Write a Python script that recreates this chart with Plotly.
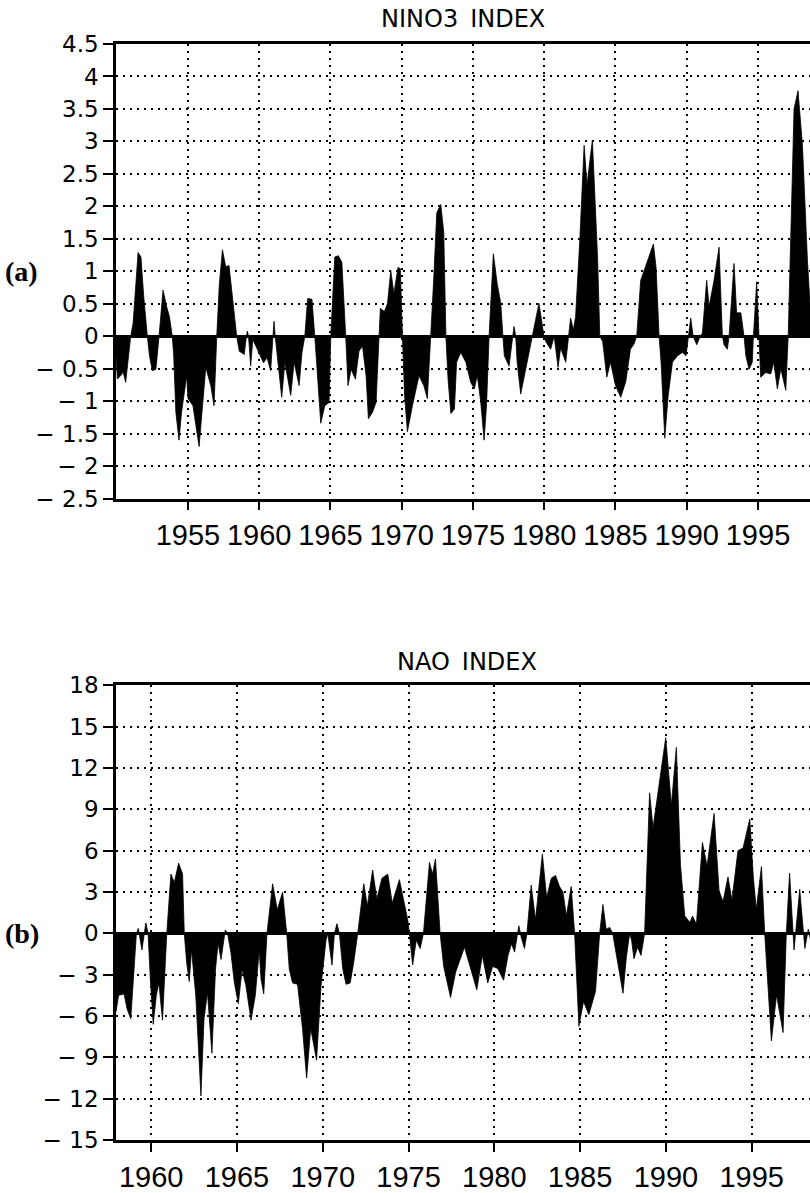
import plotly.graph_objects as go

# ---------------- data ----------------
nino3_year = [1949.95, 1950.05, 1950.3, 1950.45, 1950.63, 1950.8, 1950.98, 1951.15, 1951.35, 1951.5,
              1951.7, 1951.9, 1952.15, 1952.3, 1952.5, 1952.75, 1952.97, 1953.25, 1953.5, 1953.7,
              1953.9, 1954.0, 1954.15, 1954.37, 1954.55, 1954.91, 1955.0, 1955.35, 1955.78, 1956.0,
              1956.25, 1956.6, 1956.83, 1957.02, 1957.2, 1957.42, 1957.65, 1957.88, 1958.1, 1958.42,
              1958.6, 1958.95, 1959.1, 1959.17, 1959.25, 1959.4, 1959.55, 1959.85, 1960.3, 1960.55,
              1960.8, 1960.92, 1961.04, 1961.12, 1961.25, 1961.58, 1961.8, 1962.21, 1962.45, 1962.8,
              1963.0, 1963.2, 1963.4, 1963.7, 1963.9, 1964.1, 1964.32, 1964.6, 1964.9, 1965.02,
              1965.3, 1965.55, 1965.8, 1966.07, 1966.23, 1966.45, 1966.75, 1967.0, 1967.25, 1967.5,
              1967.66, 1967.95, 1968.2, 1968.41, 1968.5, 1968.78, 1969.0, 1969.23, 1969.45, 1969.74,
              1969.9, 1970.05, 1970.2, 1970.4, 1970.75, 1971.21, 1971.55, 1971.8, 1972.04, 1972.25,
              1972.46, 1972.74, 1972.95, 1973.1, 1973.25, 1973.45, 1973.7, 1973.85, 1974.14, 1974.5,
              1974.84, 1975.1, 1975.3, 1975.54, 1975.78, 1975.95, 1976.13, 1976.43, 1976.7, 1976.95,
              1977.1, 1977.2, 1977.53, 1977.78, 1977.88, 1978.0, 1978.1, 1978.35, 1978.7, 1979.05,
              1979.17, 1979.4, 1979.63, 1979.98, 1980.1, 1980.45, 1980.7, 1980.97, 1981.15, 1981.51,
              1981.74, 1981.85, 1982.05, 1982.2, 1982.5, 1982.8, 1983.0, 1983.38, 1983.55, 1983.75,
              1983.9, 1984.1, 1984.39, 1984.65, 1985.0, 1985.37, 1985.72, 1986.05, 1986.3, 1986.49,
              1986.77, 1987.1, 1987.35, 1987.66, 1987.85, 1988.06, 1988.2, 1988.46, 1988.7, 1989.0,
              1989.35, 1989.7, 1989.95, 1990.1, 1990.28, 1990.45, 1990.7, 1990.95, 1991.1, 1991.4,
              1991.57, 1991.9, 1992.27, 1992.5, 1992.62, 1992.85, 1992.97, 1993.32, 1993.5, 1993.8,
              1994.02, 1994.15, 1994.37, 1994.6, 1994.68, 1994.91, 1995.07, 1995.19, 1995.55, 1995.9,
              1996.1, 1996.36, 1996.6, 1996.95, 1997.12, 1997.3, 1997.53, 1997.81, 1998.12, 1998.47,
              1998.6, 1998.75, 1999.0]
nino3_value = [-0.3, -0.66, -0.6, -0.55, -0.71, -0.35, 0.0, 0.2, 0.9, 1.29,
               1.22, 0.6, 0.0, -0.3, -0.53, -0.51, 0.0, 0.71, 0.46, 0.3,
               0.0, -0.3, -1.17, -1.6, -1.17, -0.61, -0.96, -1.07, -1.70, -1.07,
               -0.48, -0.76, -1.07, 0.0, 0.8, 1.33, 1.07, 1.09, 0.66, 0.0,
               -0.23, -0.28, 0.0, 0.08, 0.0, -0.46, -0.05, -0.2, -0.41, -0.33,
               -0.53, -0.15, 0.23, 0.0, -0.25, -0.94, -0.4, -0.91, -0.4, -0.76,
               -0.25, 0.0, 0.58, 0.57, 0.0, -0.66, -1.34, -1.07, -1.02, 0.0,
               1.22, 1.24, 1.14, 0.0, -0.76, -0.51, -0.66, -0.23, -0.15, -0.61,
               -1.27, -1.17, -1.02, 0.0, 0.43, 0.38, 0.5, 1.01, 0.66, 1.06,
               1.04, 0.0, -0.91, -1.47, -1.07, -0.61, -0.76, -0.96, 0.0, 0.9,
               1.90, 2.03, 1.6, 0.0, -0.66, -1.19, -1.12, -0.4, -0.25, -0.4,
               -0.71, -0.81, -0.6, -1.0, -1.6, -1.07, 0.0, 1.27, 0.81, 0.51,
               0.0, -0.3, -0.46, 0.0, 0.15, 0.0, -0.4, -0.89, -0.51, -0.1,
               0.0, 0.3, 0.51, 0.0, -0.08, -0.2, 0.0, -0.48, -0.18, -0.4,
               0.0, 0.28, 0.1, 0.3, 1.5, 2.94, 2.33, 3.02, 2.18, 1.17,
               0.0, -0.08, -0.63, -0.4, -0.76, -0.94, -0.7, -0.2, -0.12, 0.0,
               0.86, 1.06, 1.24, 1.42, 1.06, 0.0, -0.4, -1.57, -0.91, -0.4,
               -0.3, -0.25, -0.3, 0.0, 0.28, 0.0, -0.13, 0.0, 0.05, 0.86,
               0.46, 0.84, 1.37, 0.0, -0.13, -0.2, 0.0, 1.12, 0.36, 0.36,
               0.0, -0.3, -0.51, -0.4, 0.0, 0.84, 0.0, -0.63, -0.56, -0.58,
               -0.4, -0.81, -0.5, -0.83, 0.0, 1.6, 3.5, 3.78, 2.94, 1.17,
               0.66, 0.0, -0.8]

nao_year = [1957.95, 1958.1, 1958.42, 1958.6, 1958.81, 1959.0, 1959.14, 1959.25, 1959.46, 1959.69,
            1959.82, 1959.95, 1960.12, 1960.3, 1960.45, 1960.66, 1960.8, 1960.91, 1961.15, 1961.35,
            1961.6, 1961.83, 1961.93, 1962.07, 1962.22, 1962.35, 1962.6, 1962.9, 1963.08, 1963.28,
            1963.54, 1963.75, 1963.9, 1964.07, 1964.32, 1964.45, 1964.65, 1964.85, 1965.08, 1965.3,
            1965.52, 1965.82, 1966.07, 1966.3, 1966.4, 1966.56, 1966.75, 1967.08, 1967.35, 1967.66,
            1967.9, 1968.05, 1968.24, 1968.53, 1968.82, 1969.06, 1969.3, 1969.64, 1969.9, 1970.19,
            1970.29, 1970.54, 1970.68, 1970.83, 1970.97, 1971.17, 1971.36, 1971.6, 1971.8, 1972.04,
            1972.39, 1972.6, 1972.91, 1973.15, 1973.45, 1973.79, 1974.05, 1974.47, 1974.7, 1974.95,
            1975.05, 1975.24, 1975.45, 1975.68, 1975.87, 1976.05, 1976.22, 1976.4, 1976.57, 1976.84,
            1977.05, 1977.45, 1977.75, 1978.26, 1978.55, 1978.98, 1979.3, 1979.62, 1979.9, 1980.2,
            1980.54, 1980.8, 1981.0, 1981.18, 1981.43, 1981.57, 1981.76, 1981.9, 1982.15, 1982.4,
            1982.8, 1983.05, 1983.32, 1983.57, 1983.8, 1984.0, 1984.2, 1984.48, 1984.68, 1984.93,
            1985.2, 1985.51, 1985.9, 1986.14, 1986.33, 1986.52, 1986.72, 1986.9, 1987.05, 1987.5,
            1987.7, 1987.89, 1988.0, 1988.14, 1988.35, 1988.55, 1988.76, 1989.05, 1989.25, 1989.6,
            1989.99, 1990.32, 1990.61, 1990.85, 1991.1, 1991.4, 1991.55, 1991.78, 1992.13, 1992.4,
            1992.81, 1993.1, 1993.33, 1993.62, 1993.85, 1994.2, 1994.5, 1994.89, 1995.1, 1995.27,
            1995.57, 1995.76, 1996.15, 1996.45, 1996.83, 1997.02, 1997.21, 1997.47, 1997.8, 1998.1,
            1998.3, 1998.45, 1998.7]
nao_value = [-5.7, -4.5, -4.4, -5.5, -6.2, -2.6, 0.0, 0.36, -1.2, 0.76,
             0.0, -3.3, -6.6, -4.5, -3.6, -6.3, -2.6, 0.0, 4.3, 3.7,
             5.1, 4.3, 0.0, -2.15, -3.5, -1.2, -4.5, -11.8, -6.2, -4.3,
             -8.7, -2.6, -0.7, -1.9, 0.24, 0.0, -1.4, -3.6, -5.1, -2.6,
             -3.8, -6.3, -4.5, -1.2, -3.3, -4.4, 0.0, 3.6, 1.7, 3.0,
             0.0, -2.6, -3.6, -3.7, -6.9, -10.5, -6.9, -9.2, -3.8, -0.5,
             0.0, -2.3, 0.0, 0.7, 0.0, -2.6, -3.7, -3.6, -2.15, 0.0,
             3.6, 2.0, 4.6, 2.5, 4.0, 4.3, 2.2, 3.9, 2.5, 1.0,
             0.0, -2.3, -0.5, -1.1, 0.0, 3.0, 5.15, 4.3, 5.4, 0.0,
             -2.4, -4.65, -2.8, -1.0, -2.3, -4.1, -1.6, -3.6, -2.4, -2.55,
             -3.4, -1.6, -0.76, -1.36, 0.55, -0.3, -1.1, 0.0, 3.5, 1.0,
             5.75, 2.6, 4.0, 4.2, 3.4, 3.0, 1.26, 3.4, 0.0, -6.75,
             -4.95, -5.9, -4.2, 0.0, 2.1, 0.3, 0.43, 0.0, -1.1, -4.35,
             -1.7, 0.0, -0.5, -1.84, -1.0, -1.6, 0.0, 10.2, 7.66, 10.8,
             14.2, 9.3, 13.5, 5.0, 1.26, 0.8, 1.26, 0.67, 6.6, 4.9,
             8.7, 3.1, 2.3, 4.1, 2.4, 6.0, 6.2, 8.3, 4.0, 1.75,
             4.85, 0.0, -7.8, -4.47, -7.2, 0.0, 4.37, -1.2, 3.2, -1.1,
             0.3, -0.6, 0.2]

nino3_xticks = [1955, 1960, 1965, 1970, 1975, 1980, 1985, 1990, 1995]
nao_xticks = [1960, 1965, 1970, 1975, 1980, 1985, 1990, 1995]
nino3_yticks = [-2.5, -2, -1.5, -1, -0.5, 0, 0.5, 1, 1.5, 2, 2.5, 3, 3.5, 4, 4.5]
nao_yticks = [-15, -12, -9, -6, -3, 0, 3, 6, 9, 12, 15, 18]

title_top = "NINO3\u2002INDEX"
title_bottom = "NAO\u2002INDEX"
panel_labels = ["(a)", "(b)"]


def fmt(v):
    s = ("%g" % abs(v))
    return ("\u2212\u2004" + s) if v < 0 else s


# ---------------- figure ----------------
fig = go.Figure()
fig.add_trace(go.Scatter(x=nino3_year, y=nino3_value, mode="lines", fill="tozeroy",
                         line=dict(color="black", width=0.8), fillcolor="black",
                         xaxis="x", yaxis="y", showlegend=False, hoverinfo="skip"))
fig.add_trace(go.Scatter(x=nao_year, y=nao_value, mode="lines", fill="tozeroy",
                         line=dict(color="black", width=0.8), fillcolor="black",
                         xaxis="x2", yaxis="y2", showlegend=False, hoverinfo="skip"))

xcommon = dict(showline=True, linecolor="black", linewidth=2.5, mirror=True,
               ticks="outside", ticklen=9, tickwidth=2, tickcolor="black",
               showgrid=True, gridcolor="black", gridwidth=1.5, griddash="2px,5px",
               zeroline=False,
               tickfont=dict(family="Liberation Sans", size=29, color="black"))
ycommon = dict(showline=True, linecolor="black", linewidth=2.5, mirror=False,
               ticks="outside", ticklen=10, tickwidth=2, tickcolor="black",
               showgrid=True, gridcolor="black", gridwidth=1.5, griddash="2px,5px",
               zeroline=True, zerolinecolor="black", zerolinewidth=2.5,
               tickfont=dict(family="DejaVu Sans", size=23, color="black"))

fig.update_layout(
    width=810, height=1193,
    margin=dict(l=116, r=0, t=44, b=40),
    paper_bgcolor="white", plot_bgcolor="white",
    xaxis=dict(xcommon, domain=[0, 1], range=[1949.95, 1998.65], anchor="y",
               tickvals=nino3_xticks, ticktext=[str(t) for t in nino3_xticks]),
    yaxis=dict(ycommon, domain=[649 / 1109, 1], range=[-2.5, 4.5], anchor="x",
               tickvals=nino3_yticks, ticktext=[fmt(v) for v in nino3_yticks]),
    xaxis2=dict(xcommon, domain=[0, 1], range=[1957.95, 1998.4], anchor="y2",
                tickvals=nao_xticks, ticktext=[str(t) for t in nao_xticks]),
    yaxis2=dict(ycommon, domain=[0, 460 / 1109], range=[-15, 18], anchor="x2",
                tickvals=nao_yticks, ticktext=[fmt(v) for v in nao_yticks]),
    annotations=[
        dict(text=title_top, xref="paper", yref="paper", x=(462.5 - 116) / 694, y=(1153 - 19) / 1109,
             xanchor="center", yanchor="middle", showarrow=False,
             font=dict(family="DejaVu Sans", size=24, color="black")),
        dict(text=title_bottom, xref="paper", yref="paper", x=(467.5 - 116) / 694, y=(1153 - 669) / 1109,
             xanchor="center", yanchor="middle", showarrow=False,
             font=dict(family="DejaVu Sans", size=24, color="black")),
        dict(text="<b>" + panel_labels[0] + "</b>", xref="paper", yref="y", x=(3 - 116) / 694, y=1,
             xanchor="left", yanchor="middle", showarrow=False,
             font=dict(family="Liberation Serif", size=28, color="black")),
        dict(text="<b>" + panel_labels[1] + "</b>", xref="paper", yref="y2", x=(3 - 116) / 694, y=0,
             xanchor="left", yanchor="middle", showarrow=False,
             font=dict(family="Liberation Serif", size=28, color="black")),
    ],
)

fig.write_html("out.html", config={"displayModeBar": False})
